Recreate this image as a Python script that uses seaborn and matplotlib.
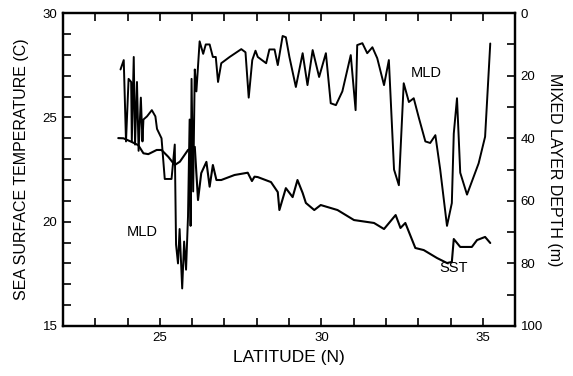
import numpy as np
import pandas as pd
import matplotlib
matplotlib.use("Agg")
import matplotlib.pyplot as plt
from matplotlib.ticker import MultipleLocator
import seaborn as sns

# --------------------------
# Data
# --------------------------
sst_lat = [23.71, 23.87, 24.12, 24.33, 24.49, 24.64, 24.90, 25.05, 25.26, 25.46,
           25.62, 25.87, 26.08, 26.18, 26.28, 26.44, 26.54, 26.64, 26.75, 26.90,
           27.31, 27.72, 27.85, 27.93, 28.03, 28.44, 28.65, 28.70, 28.90, 29.11,
           29.26, 29.42, 29.52, 29.78, 29.98, 30.50, 31.01, 31.63, 31.94, 32.30,
           32.45, 32.60, 32.91, 33.17, 33.58, 33.89, 34.04, 34.10, 34.30, 34.66,
           34.82, 35.07, 35.23]
sst_val = [24.01, 24.00, 23.83, 23.67, 23.28, 23.24, 23.44, 23.44, 23.11, 22.72,
           22.88, 23.44, 23.59, 21.04, 22.33, 22.87, 21.68, 22.72, 22.00, 22.00,
           22.24, 22.35, 21.95, 22.16, 22.14, 21.90, 21.42, 20.56, 21.61, 21.18,
           22.00, 21.38, 20.90, 20.56, 20.80, 20.56, 20.08, 19.94, 19.65, 20.32,
           19.70, 19.94, 18.74, 18.64, 18.26, 18.02, 18.07, 19.17, 18.79, 18.79,
           19.12, 19.27, 18.98]

mld_lat = [23.78, 23.88, 23.95, 24.03, 24.11, 24.13, 24.19, 24.23, 24.29, 24.34,
           24.41, 24.46, 24.49, 24.60, 24.75, 24.86, 24.91, 25.05, 25.15, 25.36,
           25.46, 25.50, 25.56, 25.61, 25.69, 25.75, 25.81, 25.87, 25.92, 25.95,
           25.98, 26.03, 26.08, 26.13, 26.23, 26.34, 26.42, 26.54, 26.64, 26.73,
           26.80, 26.90, 27.16, 27.52, 27.65, 27.75, 27.86, 27.96, 28.03, 28.29,
           28.39, 28.55, 28.65, 28.80, 28.90, 29.01, 29.21, 29.42, 29.57, 29.73,
           29.93, 30.14, 30.29, 30.45, 30.65, 30.91, 31.06, 31.11, 31.27, 31.42,
           31.58, 31.73, 31.94, 32.09, 32.25, 32.40, 32.55, 32.71, 32.86, 33.02,
           33.22, 33.37, 33.53, 33.68, 33.89, 34.04, 34.10, 34.20, 34.30, 34.51,
           34.87, 35.07, 35.23]
mld_val = [18, 15, 41, 21, 22, 41, 14, 42, 22, 44,
           27, 41, 34, 33, 31, 33, 37, 40, 53, 53,
           42, 74, 80, 69, 88, 73, 82, 65, 34, 68,
           21, 57, 18, 25, 9, 13, 10, 10, 14, 14,
           22, 16, 14, 11.5, 12.5, 27, 15, 12, 14, 16,
           11.6, 11.6, 16.6, 7.3, 7.7, 14, 23.6, 12.8, 23, 11.8,
           20.4, 12.8, 28.8, 29.4, 25, 13.4, 31, 10.2, 9.6, 12.8,
           10.9, 14.4, 23, 15, 50, 55, 22.4, 28.4, 27.2, 33.5,
           41, 41.5, 39, 50, 68, 60.7, 38.5, 27.2, 51, 58,
           48, 39.5, 9.7]

sst = pd.DataFrame({"lat": sst_lat, "sst": sst_val})
mld = pd.DataFrame({"lat": mld_lat, "mld": mld_val})

# --------------------------
# Style
# --------------------------
sns.set_style("ticks")
plt.rcParams["font.family"] = ["Liberation Sans", "DejaVu Sans"]
plt.rcParams.update({
    "axes.linewidth": 1.6,
    "axes.edgecolor": "black",
    "text.color": "black",
    "axes.labelcolor": "black",
    "xtick.color": "black",
    "ytick.color": "black",
})

fig = plt.figure(figsize=(5.73, 3.76), dpi=100)
ax = fig.add_axes([0.11, 0.133, 0.789, 0.832])
ax2 = ax.twinx()

sns.lineplot(data=sst, x="lat", y="sst", ax=ax, color="black", lw=1.5,
             sort=False, estimator=None)
sns.lineplot(data=mld, x="lat", y="mld", ax=ax2, color="black", lw=1.4,
             sort=False, estimator=None)

ax.set_xlim(22, 36)
ax.set_ylim(15, 30)
ax2.set_ylim(100, 0)

ax.xaxis.set_major_locator(MultipleLocator(5))
ax.xaxis.set_minor_locator(MultipleLocator(1))
ax.yaxis.set_major_locator(MultipleLocator(5))
ax.yaxis.set_minor_locator(MultipleLocator(1))
ax2.yaxis.set_major_locator(MultipleLocator(20))
ax2.yaxis.set_minor_locator(MultipleLocator(10))

ax.tick_params(which="both", direction="in", top=True, length=6, width=1.2,
               labelsize=9.5, pad=4)
ax.tick_params(axis="y", which="both", right=False)
ax2.tick_params(which="both", direction="in", length=6, width=1.2,
                labelsize=9.5, pad=4)

ax.set_xlabel("LATITUDE (N)", fontsize=12.5, labelpad=5)
ax.set_ylabel("SEA SURFACE TEMPERATURE (C)", fontsize=11.5, labelpad=10)
ax2.set_ylabel("MIXED LAYER DEPTH (m)", fontsize=11.5, rotation=-90, labelpad=14)

# curve labels
ax2.text(33.25, 19, "MLD", fontsize=10.5, ha="center", va="center")
ax.text(24.45, 19.5, "MLD", fontsize=10.5, ha="center", va="center")
ax.text(34.1, 17.8, "SST", fontsize=10.5, ha="center", va="center")

for a in (ax, ax2):
    for s in a.spines.values():
        s.set_linewidth(1.6)
        s.set_color("black")

fig.savefig("out.png", dpi=100)
